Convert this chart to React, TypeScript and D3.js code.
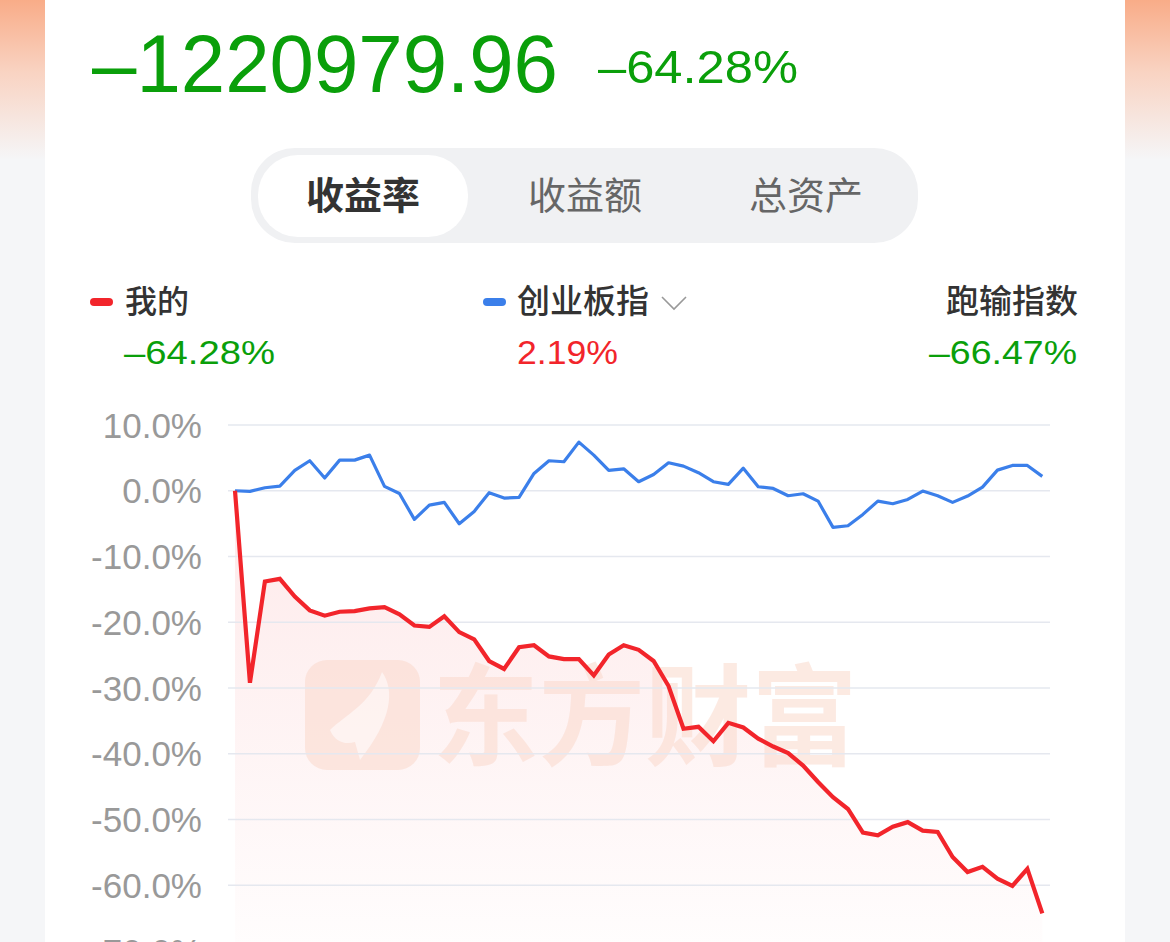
import React from "react";
import * as d3 from "d3";

const mine: number[] = [
  0, -29.2, -13.8, -13.4, -16.1, -18.2, -19.0, -18.4, -18.3, -17.9,
  -17.7, -18.8, -20.5, -20.7, -19.1, -21.5, -22.6, -25.9, -27.1, -23.8,
  -23.5, -25.2, -25.6, -25.6, -28.1, -24.9, -23.5, -24.2, -25.9, -29.7,
  -36.2, -35.9, -38.1, -35.3, -36.0, -37.7, -38.9, -39.9, -41.8, -44.3,
  -46.6, -48.4, -52.0, -52.4, -51.1, -50.4, -51.7, -51.9, -55.7, -58.0,
  -57.2, -59.0, -60.1, -57.5, -64.28,
];

const chinext: number[] = [
  0, -0.1, 0.46, 0.71, 3.09, 4.56, 1.93, 4.66, 4.66, 5.42,
  0.66, -0.41, -4.36, -2.18, -1.77, -5.02, -3.14, -0.3, -1.11, -1.01,
  2.63, 4.56, 4.41, 7.4, 5.42, 3.09, 3.34, 1.37, 2.48, 4.26,
  3.75, 2.74, 1.37, 0.96, 3.44, 0.61, 0.35, -0.76, -0.46, -1.57,
  -5.57, -5.32, -3.6, -1.57, -1.98, -1.32, -0.05, -0.76, -1.77, -0.81,
  0.56, 3.14, 3.85, 3.85, 2.19,
];

const yTicks: number[] = [10, 0, -10, -20, -30, -40, -50, -60, -70];
const tabs: string[] = ["收益率", "收益额", "总资产"];
const headerAmount = "–1220979.96";
const headerPct = "–64.28%";
const legendNames: string[] = ["我的", "创业板指", "跑输指数"];
const legendValues: string[] = ["–64.28%", "2.19%", "–66.47%"];

const W = 1170;
const H = 942;
const GREEN = "#0A9F0A";
const RED = "#F2252B";
const BLUE = "#3B7FEA";
const FONT = "'Liberation Sans', Arial, 'Noto Sans CJK SC', sans-serif";
const CJK = "'Noto Sans CJK SC', 'Liberation Sans', sans-serif";

export default function App() {
  const x = d3.scaleLinear().domain([0, mine.length - 1]).range([235, 1042.3]);
  const y = d3.scaleLinear().domain([10, -70]).range([425, 951]);

  const line = d3
    .line<number>()
    .x((_, i) => x(i))
    .y((d) => y(d));
  const area = d3
    .area<number>()
    .x((_, i) => x(i))
    .y0(H)
    .y1((d) => y(d));

  const tabX = [363, 585, 806];

  return (
    <div style={{ position: "absolute", left: 0, top: 0, width: W, height: H, overflow: "hidden" }}>
      <svg width={W} height={H} style={{ display: "block" }}>
        <defs>
          <linearGradient id="side" x1="0" y1="0" x2="0" y2="1">
            <stop offset="0" stopColor="#F9AC88" />
            <stop offset="0.45" stopColor="#F9D3C2" />
            <stop offset="1" stopColor="#F5F6F8" />
          </linearGradient>
          <linearGradient id="areaGrad" gradientUnits="userSpaceOnUse" x1="0" y1="491" x2="0" y2="942">
            <stop offset="0" stopColor={RED} stopOpacity="0.10" />
            <stop offset="1" stopColor={RED} stopOpacity="0.01" />
          </linearGradient>
        </defs>
        <rect x={0} y={0} width={W} height={H} fill="#F5F6F8" />
        <rect x={0} y={0} width={45} height={160} fill="url(#side)" />
        <rect x={1125} y={0} width={45} height={160} fill="url(#side)" />
        <rect x={45} y={0} width={1080} height={H} fill="#FFFFFF" />

        {/* header */}
        <text x={92} y={92} fontFamily={FONT} fontSize={81} fill={GREEN} textLength={466} lengthAdjust="spacingAndGlyphs">
          {headerAmount}
        </text>
        <text x={598} y={83} fontFamily={FONT} fontSize={47} fill={GREEN} textLength={200} lengthAdjust="spacingAndGlyphs">
          {headerPct}
        </text>

        {/* tabs */}
        <rect x={251} y={148} width={667} height={95} rx={44} fill="#F0F1F3" />
        <rect x={258} y={155} width={210} height={82} rx={40} fill="#FFFFFF" />
        {tabs.map((t, i) => (
          <text
            key={t}
            x={tabX[i]}
            y={209}
            textAnchor="middle"
            fontFamily={CJK}
            fontSize={38}
            fontWeight={i === 0 ? 700 : 400}
            fill={i === 0 ? "#333333" : "#666666"}
          >
            {t}
          </text>
        ))}

        {/* legend */}
        <rect x={90} y={298} width={23} height={8} rx={4} fill={RED} />
        <text x={125} y={313} fontFamily={CJK} fontSize={32} fontWeight={500} fill="#333333">
          {legendNames[0]}
        </text>
        <text x={124} y={364} fontFamily={FONT} fontSize={33} fill={GREEN} textLength={151} lengthAdjust="spacingAndGlyphs">
          {legendValues[0]}
        </text>

        <rect x={483} y={298} width={23} height={8} rx={4} fill={BLUE} />
        <text x={517} y={313} fontFamily={CJK} fontSize={33} fontWeight={500} fill="#333333">
          {legendNames[1]}
        </text>
        <path d="M662,297 L674,309 L686,297" fill="none" stroke="#999999" strokeWidth={1.6} />
        <text x={517} y={364} fontFamily={FONT} fontSize={33} fill={RED} textLength={101} lengthAdjust="spacingAndGlyphs">
          {legendValues[1]}
        </text>

        <text x={1078} y={313} textAnchor="end" fontFamily={CJK} fontSize={33} fontWeight={500} fill="#333333">
          {legendNames[2]}
        </text>
        <text x={1077} y={364} textAnchor="end" fontFamily={FONT} fontSize={33} fill={GREEN} textLength={148} lengthAdjust="spacingAndGlyphs">
          {legendValues[2]}
        </text>

        {/* chart */}
        <path d={area(mine) ?? ""} fill="url(#areaGrad)" />

        {/* watermark */}
        <g opacity={0.55}>
          <rect x={305} y={660} width={115} height={110} rx={22} fill="#FBD9CC" />
          <path
            d="M330,730 C345,715 370,705 382,672 C395,690 392,720 360,760 L355,742 C345,745 335,742 330,730 Z"
            fill="#FEF3EF"
          />
          <text
            x={645}
            y={757}
            textAnchor="middle"
            fontFamily={CJK}
            fontSize={110}
            fontWeight={700}
            fill="#FBD9CC"
            textLength={425}
            lengthAdjust="spacingAndGlyphs"
          >
            东方财富
          </text>
        </g>

        {yTicks.map((t) => (
          <g key={t}>
            <line x1={228} x2={1050} y1={y(t)} y2={y(t)} stroke="#E5E8EF" strokeWidth={1.5} />
            <text
              x={202}
              y={y(t)}
              dy="0.36em"
              textAnchor="end"
              fontFamily={FONT}
              fontSize={35}
              fill="#999999"
            >
              {`${t.toFixed(1)}%`}
            </text>
          </g>
        ))}

        <path d={line(chinext) ?? ""} fill="none" stroke={BLUE} strokeWidth={3.2} strokeLinejoin="round" />
        <path d={line(mine) ?? ""} fill="none" stroke={RED} strokeWidth={4.2} strokeLinejoin="miter" />
      </svg>
    </div>
  );
}
